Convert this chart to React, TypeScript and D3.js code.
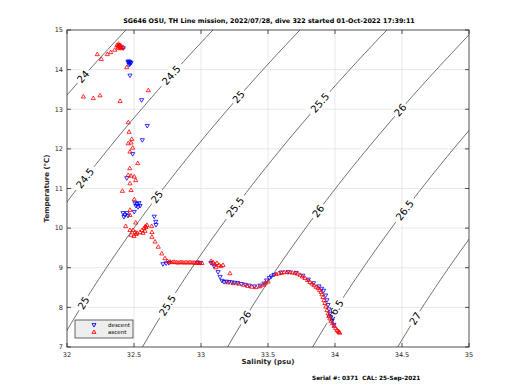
import React from "react";
import * as d3 from "d3";

const titleText = "SG646 OSU, TH Line mission, 2022/07/28, dive 322 started 01-Oct-2022 17:39:11";
const footerText = "Serial #: 0371\u00a0\u00a0CAL: 25-Sep-2021";
const xTicks = [32, 32.5, 33, 33.5, 34, 34.5, 35];
const yTicks = [7, 8, 9, 10, 11, 12, 13, 14, 15];
const sigmaLevels = [24, 24.5, 25, 25.5, 26, 26.5, 27];
const labelSigmas = [24, 24.5, 25, 25.5, 26, 24.5, 25, 25.5, 26, 26.5, 25, 25.5, 26, 26.5, 27];
const labelTemps = [13.82, 13.86, 13.31, 13.16, 12.98, 11.26, 10.79, 10.53, 10.43, 10.45, 8.11, 8.05, 7.75, 7.93, 7.72];

const descent: [number, number][] = [
  [32.420, 14.54],
  [32.455, 14.19], [32.463, 14.17], [32.470, 14.19], [32.478, 14.17], [32.463, 14.12], [32.470, 14.14], [32.460, 14.21],
  [32.470, 13.85], [32.557, 13.23], [32.599, 12.58], [32.562, 12.22], [32.490, 11.87], [32.446, 11.26],
  [32.507, 10.63], [32.522, 10.61], [32.537, 10.63], [32.545, 10.56], [32.515, 10.56], [32.530, 10.53],
  [32.502, 10.41],
  [32.418, 10.38], [32.433, 10.33], [32.448, 10.38], [32.425, 10.28], [32.455, 10.31],
  [32.651, 10.29], [32.662, 10.16], [32.664, 10.08],
  [32.716, 9.09], [32.740, 9.11], [32.760, 9.12], [32.975, 9.13], [32.995, 9.12],
  [33.075, 9.12], [33.097, 9.04], [33.127, 8.89], [33.142, 8.77], [33.157, 8.67],
  [33.172, 8.64], [33.190, 8.65], [33.210, 8.64], [33.231, 8.63], [33.250, 8.62], [33.275, 8.61],
  [33.300, 8.59], [33.330, 8.57], [33.360, 8.55], [33.400, 8.53], [33.440, 8.55], [33.470, 8.60],
  [33.490, 8.68], [33.510, 8.74], [33.525, 8.78], [33.545, 8.82],
  [33.600, 8.88], [33.650, 8.89], [33.710, 8.87], [33.760, 8.80], [33.800, 8.70], [33.840, 8.61],
  [33.880, 8.53], [33.900, 8.47], [33.915, 8.42], [33.930, 8.30], [33.940, 8.18], [33.948, 8.06],
  [33.955, 7.95], [33.962, 7.84], [33.968, 7.75], [33.978, 7.66], [33.992, 7.56],
];

const ascent: [number, number][] = [
  [32.373, 14.62], [32.381, 14.60], [32.388, 14.62], [32.396, 14.57], [32.403, 14.60], [32.410, 14.55],
  [32.381, 14.55], [32.396, 14.62], [32.418, 14.57], [32.390, 14.58], [32.400, 14.54], [32.385, 14.65],
  [32.356, 14.50], [32.326, 14.44], [32.301, 14.39], [32.256, 14.27], [32.226, 14.39],
  [32.446, 14.06],
  [32.122, 13.32], [32.196, 13.28], [32.246, 13.35], [32.396, 13.21], [32.607, 13.48],
  [32.457, 12.67], [32.463, 12.43], [32.483, 12.25], [32.457, 12.14], [32.478, 12.16], [32.490, 12.03],
  [32.470, 11.93], [32.528, 11.64], [32.468, 11.51], [32.457, 11.34], [32.478, 11.32], [32.502, 11.30],
  [32.513, 11.21], [32.470, 11.13], [32.413, 10.94], [32.478, 10.96], [32.502, 10.73], [32.470, 10.46],
  [32.470, 10.33], [32.513, 10.14], [32.438, 10.05], [32.470, 9.95], [32.478, 9.83],
  [32.493, 9.95], [32.507, 9.90], [32.515, 9.85], [32.500, 9.80], [32.522, 9.88],
  [32.545, 9.90], [32.560, 9.95], [32.575, 10.00], [32.590, 10.03], [32.597, 10.08], [32.582, 9.93],
  [32.567, 9.88], [32.585, 10.05],
  [32.632, 10.05], [32.634, 9.90], [32.634, 9.78], [32.657, 9.66], [32.681, 9.53], [32.707, 9.36],
  [32.731, 9.24], [32.750, 9.17],
  [32.769, 9.15], [32.785, 9.14], [32.799, 9.15], [32.815, 9.14], [32.828, 9.13], [32.845, 9.14],
  [32.858, 9.14], [32.872, 9.13], [32.888, 9.14], [32.903, 9.13], [32.918, 9.14], [32.933, 9.13],
  [32.948, 9.13], [32.963, 9.12], [32.978, 9.13], [32.992, 9.12], [33.007, 9.12],
  [33.075, 9.17], [33.090, 9.14], [33.104, 9.09], [33.119, 9.12], [33.134, 9.07], [33.149, 9.04],
  [33.164, 9.07], [33.112, 9.01], [33.216, 8.86],
  [33.200, 8.63], [33.240, 8.61], [33.280, 8.60], [33.320, 8.57], [33.350, 8.54], [33.380, 8.52],
  [33.410, 8.51], [33.440, 8.53], [33.480, 8.62], [33.500, 8.65], [33.470, 8.57], [33.560, 8.84],
  [33.580, 8.86],
  [33.600, 8.87], [33.620, 8.89], [33.640, 8.89], [33.664, 8.89], [33.680, 8.88], [33.701, 8.87],
  [33.720, 8.85], [33.739, 8.82], [33.757, 8.78], [33.776, 8.74], [33.795, 8.69], [33.813, 8.64],
  [33.828, 8.60], [33.843, 8.56], [33.858, 8.52], [33.873, 8.49], [33.885, 8.44], [33.896, 8.39],
  [33.903, 8.33], [33.910, 8.26], [33.918, 8.18], [33.925, 8.11], [33.932, 8.02], [33.940, 7.93],
  [33.948, 7.85], [33.955, 7.78], [33.962, 7.72], [33.970, 7.66], [33.982, 7.60], [33.993, 7.53],
  [34.005, 7.48], [34.015, 7.43], [34.023, 7.40], [34.030, 7.38], [34.035, 7.36],
];

// UNESCO EOS-80 density at surface pressure
function sigmaT(S: number, T: number): number {
  const rw = 999.842594 + 6.793952e-2 * T - 9.09529e-3 * T * T + 1.001685e-4 * T ** 3 - 1.120083e-6 * T ** 4 + 6.536332e-9 * T ** 5;
  const A = 0.824493 - 4.0899e-3 * T + 7.6438e-5 * T * T - 8.2467e-7 * T ** 3 + 5.3875e-9 * T ** 4;
  const B = -5.72466e-3 + 1.0227e-4 * T - 1.6546e-6 * T * T;
  return rw + A * S + B * Math.pow(S, 1.5) + 4.8314e-4 * S * S - 1000;
}
function salForSigma(sig: number, T: number): number {
  let lo = 28, hi = 40;
  for (let i = 0; i < 50; i++) {
    const mid = (lo + hi) / 2;
    if (sigmaT(mid, T) < sig) lo = mid; else hi = mid;
  }
  return (lo + hi) / 2;
}

const W = 520, H = 390;
const x = d3.scaleLinear().domain([32, 35]).range([67, 469]);
const y = d3.scaleLinear().domain([7, 15]).range([347, 30]);
const FONT = "DejaVu Sans, sans-serif";

function tri(cx: number, cy: number, up: boolean, r = 2.1) {
  const h = r;
  if (up) return `M${cx - r},${cy + h * 0.7}L${cx + r},${cy + h * 0.7}L${cx},${cy - h}Z`;
  return `M${cx - r},${cy - h * 0.7}L${cx + r},${cy - h * 0.7}L${cx},${cy + h}Z`;
}

export default function App() {
  const [x0, x1] = x.range();
  const [y0, y1] = [y.range()[1], y.range()[0]];
  const line = d3.line<[number, number]>().x((d) => x(d[0])).y((d) => y(d[1]));
  const temps = d3.range(6.0, 16.01, 0.1);
  const contours = sigmaLevels.map((s) => temps.map((t) => [salForSigma(s, t), t] as [number, number]));
  const labels = labelSigmas.map((s, i) => {
    const t = labelTemps[i];
    const S = salForSigma(s, t);
    const pa = [x(salForSigma(s, t - 0.2)), y(t - 0.2)];
    const pb = [x(salForSigma(s, t + 0.2)), y(t + 0.2)];
    const ang = (Math.atan2(pb[1] - pa[1], pb[0] - pa[0]) * 180) / Math.PI;
    return { cx: x(S), cy: y(t), ang, text: String(s) };
  });
  return (
    <svg width={W} height={H} style={{ position: "fixed", left: 0, top: 0, background: "#fff" }} fontFamily={FONT}>
      <defs>
        <clipPath id="plotclip">
          <rect x={x0} y={y0} width={x1 - x0} height={y1 - y0} />
        </clipPath>
      </defs>
      <rect x={0} y={0} width={W} height={H} fill="#fff" />
      {/* grid */}
      <g stroke="#e2e2e2" strokeWidth={0.8}>
        {xTicks.slice(1, -1).map((t) => (
          <line key={"gx" + t} x1={x(t)} x2={x(t)} y1={y0} y2={y1} />
        ))}
        {yTicks.slice(1, -1).map((t) => (
          <line key={"gy" + t} x1={x0} x2={x1} y1={y(t)} y2={y(t)} />
        ))}
      </g>
      {/* contours */}
      <g clipPath="url(#plotclip)">
        {contours.map((c, i) => (
          <path key={"c" + i} d={line(c) || ""} fill="none" stroke="#333" strokeWidth={0.7} />
        ))}
        {labels.map((l, i) => (
          <g key={"l" + i} transform={`translate(${l.cx},${l.cy}) rotate(${l.ang})`}>
            <rect x={-l.text.length * 3.2 - 2} y={-6} width={l.text.length * 6.4 + 4} height={12} fill="#fff" />
            <text textAnchor="middle" dominantBaseline="central" fontSize={10} fill="#000">
              {l.text}
            </text>
          </g>
        ))}
      </g>
      {/* data */}
      <g fill="none" strokeWidth={0.8}>
        {descent.map((d, i) => (
          <path key={"d" + i} d={tri(x(d[0]), y(d[1]), false)} stroke="#0000ff" />
        ))}
        {ascent.map((d, i) => (
          <path key={"a" + i} d={tri(x(d[0]), y(d[1]), true)} stroke="#ff0000" />
        ))}
      </g>
      {/* frame */}
      <rect x={x0} y={y0} width={x1 - x0} height={y1 - y0} fill="none" stroke="#262626" strokeWidth={0.8} />
      <g stroke="#262626" strokeWidth={0.8}>
        {xTicks.map((t) => (
          <g key={"tx" + t}>
            <line x1={x(t)} x2={x(t)} y1={y1} y2={y1 - 4} />
            <line x1={x(t)} x2={x(t)} y1={y0} y2={y0 + 4} />
          </g>
        ))}
        {yTicks.map((t) => (
          <g key={"ty" + t}>
            <line x1={x0} x2={x0 + 4} y1={y(t)} y2={y(t)} />
            <line x1={x1} x2={x1 - 4} y1={y(t)} y2={y(t)} />
          </g>
        ))}
      </g>
      <g fontSize={6.5} fill="#262626">
        {xTicks.map((t) => (
          <text key={"xl" + t} x={x(t)} y={y1 + 10} textAnchor="middle">
            {String(t)}
          </text>
        ))}
        {yTicks.map((t) => (
          <text key={"yl" + t} x={x0 - 4} y={y(t) + 2.3} textAnchor="end">
            {String(t)}
          </text>
        ))}
      </g>
      <text x={(x0 + x1) / 2} y={364} textAnchor="middle" fontSize={7} fontWeight="bold" fill="#262626">
        Salinity (psu)
      </text>
      <text transform={`translate(49,${(y0 + y1) / 2}) rotate(-90)`} textAnchor="middle" fontSize={7} fontWeight="bold" fill="#262626">
        Temperature (°C)
      </text>
      <text x={269} y={23} textAnchor="middle" fontSize={6.4} fontWeight="bold" fill="#000">
        {titleText}
      </text>
      <text x={312} y={380} fontSize={5.8} fontWeight="bold" fill="#000">
        {footerText}
      </text>
      {/* legend */}
      <g>
        <rect x={75} y={320} width={58} height={18} fill="#eeeeee" stroke="#262626" strokeWidth={0.7} />
        <path d={tri(94, 325, false, 2.0)} fill="none" stroke="#0000ff" strokeWidth={0.9} />
        <path d={tri(94, 332, true, 2.0)} fill="none" stroke="#ff0000" strokeWidth={0.9} />
        <text x={108} y={327} fontSize={5.5} fill="#000">descent</text>
        <text x={108} y={334} fontSize={5.5} fill="#000">ascent</text>
      </g>
    </svg>
  );
}
